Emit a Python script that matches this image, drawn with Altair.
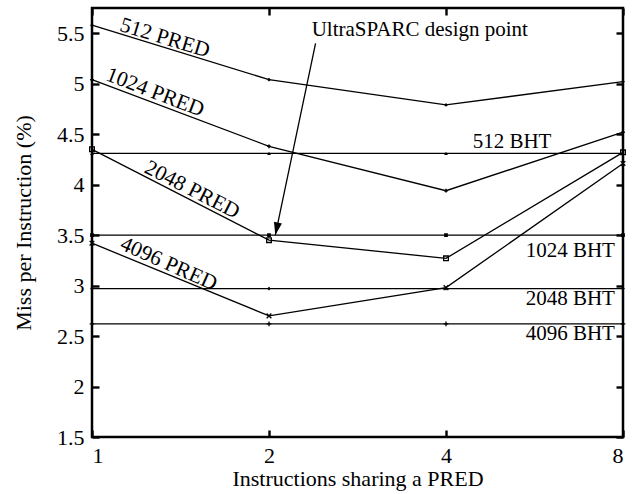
import altair as alt
import pandas as pd

# ---------------- data ----------------
x_vals = [1, 2, 4, 8]
pred_512 = [5.58, 5.04, 4.79, 5.02]
pred_1024 = [5.04, 4.38, 3.94, 4.52]
pred_2048 = [4.35, 3.45, 3.27, 4.32]
pred_4096 = [3.42, 2.70, 2.98, 4.21]
bht_512 = [4.31, 4.31, 4.31, 4.31]
bht_1024 = [3.50, 3.50, 3.50, 3.50]
bht_2048 = [2.97, 2.97, 2.97, 2.97]
bht_4096 = [2.62, 2.62, 2.62, 2.62]

series_names = ["512 PRED", "1024 PRED", "2048 PRED", "4096 PRED",
                "512 BHT", "1024 BHT", "2048 BHT", "4096 BHT"]
series_vals = [pred_512, pred_1024, pred_2048, pred_4096,
               bht_512, bht_1024, bht_2048, bht_4096]

y_ticks = [1.5, 2, 2.5, 3, 3.5, 4, 4.5, 5, 5.5]
y_domain = [1.5, 5.75]
x_domain = [1, 8]

x_title = "Instructions sharing a PRED"
y_title = "Miss per Instruction (%)"

pred_labels = ["512 PRED", "1024 PRED", "2048 PRED", "4096 PRED"]
pred_label_x = [1.33, 1.28, 1.48, 1.35]
pred_label_y = [5.45, 4.91, 3.945, 3.21]
pred_label_angle = [17, 21, 27, 24]

bht_labels = ["1024 BHT", "2048 BHT", "4096 BHT"]
bht_label_x = [7.75, 7.75, 7.75]
bht_label_y = [3.34, 2.87, 2.52]

bht512_label = "512 BHT"
bht512_label_x = 5.18
bht512_label_y = 4.42

note_text = "UltraSPARC design point"
note_x = 3.61
note_y = 5.53
arrow_start = (2.40, 5.40)
arrow_end = (2.05, 3.50)

FONT = "Liberation Serif"

rows = []
for name, vals in zip(series_names, series_vals):
    for xv, yv in zip(x_vals, vals):
        rows.append({"series": name, "x": xv, "y": yv})
df = pd.DataFrame(rows)

xs = alt.Scale(type="log", base=2, domain=x_domain, nice=False)
ys = alt.Scale(domain=y_domain, nice=False, zero=False)

# inward ticks: axis pulled inside the frame, ticks pointing back out to it
TICKSTYLE = dict(ticks=True, tickSize=7, tickWidth=2.4, tickColor="black",
                 offset=-7, domain=False, grid=False, tickCount=40)

X_main = alt.X("x:Q", scale=xs,
               axis=alt.Axis(values=x_vals, format="d", title=x_title, orient="bottom",
                             labelPadding=8, titlePadding=2,
                             labelFont=FONT, labelFontSize=22, labelColor="black",
                             titleFont=FONT, titleFontSize=22, titleFontWeight="normal",
                             titleColor="black", **TICKSTYLE))
Y_main = alt.Y("y:Q", scale=ys,
               axis=alt.Axis(values=y_ticks, format=".1~f", title=y_title, orient="left",
                             labelPadding=8, titlePadding=21,
                             labelFont=FONT, labelFontSize=22, labelColor="black",
                             titleFont=FONT, titleFontSize=22, titleFontWeight="normal",
                             titleColor="black", **TICKSTYLE))
X_top = alt.X("x:Q", scale=xs,
              axis=alt.Axis(values=x_vals, orient="top", labels=False, title=None, **TICKSTYLE))
Y_right = alt.Y("y:Q", scale=ys,
                axis=alt.Axis(values=y_ticks, orient="right", labels=False, title=None, **TICKSTYLE))

Xn = alt.X("x:Q", axis=None)
Yn = alt.Y("y:Q", axis=None)

base = alt.Chart(df)

lines = base.mark_line(color="black", strokeWidth=1.3).encode(
    x=X_main, y=Y_main, detail="series:N")

frame_ticks = base.mark_point(opacity=0).encode(x=X_top, y=Y_right)

filled_names = ["512 PRED", "1024 PRED", "512 BHT", "1024 BHT", "2048 BHT"]
filled_shapes = ["diamond", "cross", "triangle-up", "square", "diamond"]
filled_sizes = [14, 14, 30, 22, 18]
stroked_names = ["2048 PRED", "4096 PRED", "4096 BHT"]
stroked_shapes = ["square", "M-1,-1L1,1M1,-1L-1,1", "M-1,0L1,0M0,-1L0,1"]

pts_filled = base.transform_filter(
    alt.FieldOneOfPredicate(field="series", oneOf=filled_names)
).mark_point(filled=True, color="black", opacity=1).encode(
    x=Xn, y=Yn,
    shape=alt.Shape("series:N", scale=alt.Scale(domain=filled_names, range=filled_shapes), legend=None),
    size=alt.Size("series:N", scale=alt.Scale(domain=filled_names, range=filled_sizes), legend=None),
)
pts_stroked = base.transform_filter(
    alt.FieldOneOfPredicate(field="series", oneOf=stroked_names)
).mark_point(filled=False, color="black", strokeWidth=1.3, size=22, opacity=1).encode(
    x=Xn, y=Yn,
    shape=alt.Shape("series:N", scale=alt.Scale(domain=stroked_names, range=stroked_shapes), legend=None),
)

pred_df = pd.DataFrame({"t": pred_labels, "x": pred_label_x, "y": pred_label_y,
                        "a": pred_label_angle})
pred_text = alt.Chart(pred_df).mark_text(font=FONT, fontSize=21.5, color="black",
                                         align="center", baseline="middle").encode(
    x=Xn, y=Yn, text="t:N", angle=alt.Angle("a:Q", scale=None))

bht_df = pd.DataFrame({"t": bht_labels, "x": bht_label_x, "y": bht_label_y})
bht_text = alt.Chart(bht_df).mark_text(font=FONT, fontSize=21, color="black",
                                       align="right", baseline="middle").encode(
    x=Xn, y=Yn, text="t:N")

bht512_df = pd.DataFrame({"t": [bht512_label], "x": [bht512_label_x], "y": [bht512_label_y]})
bht512_text = alt.Chart(bht512_df).mark_text(font=FONT, fontSize=21, color="black",
                                             align="center", baseline="middle").encode(
    x=Xn, y=Yn, text="t:N")

note_df = pd.DataFrame({"t": [note_text], "x": [note_x], "y": [note_y]})
note = alt.Chart(note_df).mark_text(font=FONT, fontSize=21, color="black",
                                    align="center", baseline="middle").encode(
    x=Xn, y=Yn, text="t:N")

arrow_df = pd.DataFrame({"x": [arrow_start[0]], "y": [arrow_start[1]],
                         "x2": [arrow_end[0]], "y2": [arrow_end[1]]})
arrow_line = alt.Chart(arrow_df).mark_rule(color="black", strokeWidth=1.3).encode(
    x=Xn, y=Yn, x2="x2:Q", y2="y2:Q")
arrow_head = alt.Chart(arrow_df).mark_point(
    shape="M0,0L-0.32,-1L0.32,-1Z", filled=True, color="black", size=650, angle=12,
    opacity=1).encode(x=alt.X("x2:Q", axis=None), y=alt.Y("y2:Q", axis=None))

chart = alt.layer(
    lines, frame_ticks, pts_filled, pts_stroked,
    pred_text, bht_text, bht512_text, note, arrow_line, arrow_head
).properties(
    width=531, height=429,
    autosize=alt.AutoSizeParams(type="none"),
    padding={"left": 92, "top": 8, "right": 19, "bottom": 57},
    background="white",
).resolve_scale(shape="independent", size="independent").resolve_axis(
    x="independent", y="independent"
).configure_view(
    stroke="black", strokeWidth=2.5
)

chart.save("out.html", embed_options={"renderer": "svg", "actions": False})
